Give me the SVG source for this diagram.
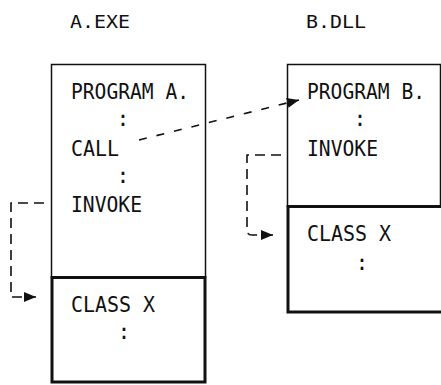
<svg xmlns="http://www.w3.org/2000/svg" width="441" height="385" viewBox="0 0 441 385">
<style>
text{font-family:"DejaVu Sans Mono","Liberation Mono",monospace;font-size:21.5px;fill:#111}
.h{font-size:18px}
.c{text-anchor:middle}
.thin{fill:none;stroke:#111;stroke-width:1.5}
.thick{fill:none;stroke:#111;stroke-width:3}
.dash{fill:none;stroke:#111;stroke-width:1.6;stroke-dasharray:10 6}
.dash2{fill:none;stroke:#111;stroke-width:1.6;stroke-dasharray:8 10}
</style>
<defs>
<marker id="ah" markerUnits="userSpaceOnUse" markerWidth="14" markerHeight="12" refX="12" refY="5" orient="auto">
<path d="M0,0 L12,5 L0,10 Z" fill="#111"/>
</marker>
</defs>
<rect width="441" height="385" fill="#fff"/>
<g id="label-a"><text class="h" x="70" y="28" textLength="60" lengthAdjust="spacingAndGlyphs">A.EXE</text></g>
<g id="label-b"><text class="h" x="306" y="28" textLength="60" lengthAdjust="spacingAndGlyphs">B.DLL</text></g>
<g id="program-a">
<rect class="thin" x="51.5" y="64.5" width="154" height="213"/>
<text x="71" y="99" textLength="118" lengthAdjust="spacingAndGlyphs">PROGRAM A.</text>
<text class="c" x="123" y="126">:</text>
<text x="71" y="156" textLength="48" lengthAdjust="spacingAndGlyphs">CALL</text>
<text class="c" x="123" y="183">:</text>
<text x="71" y="212" textLength="71" lengthAdjust="spacingAndGlyphs">INVOKE</text>
</g>
<g id="class-x-a">
<rect class="thick" x="52" y="277.5" width="153" height="104.5"/>
<text x="71" y="312" textLength="84" lengthAdjust="spacingAndGlyphs">CLASS X</text>
<text class="c" x="124" y="339">:</text>
</g>
<g id="program-b">
<rect class="thin" x="287.5" y="64.5" width="153" height="142"/>
<text x="307" y="99" textLength="118" lengthAdjust="spacingAndGlyphs">PROGRAM B.</text>
<text class="c" x="360" y="126">:</text>
<text x="307" y="156" textLength="71" lengthAdjust="spacingAndGlyphs">INVOKE</text>
</g>
<g id="class-x-b">
<rect class="thick" x="288" y="206.5" width="155" height="105.5"/>
<text x="307" y="241" textLength="84" lengthAdjust="spacingAndGlyphs">CLASS X</text>
<text class="c" x="362" y="270">:</text>
</g>
<g id="connectors">
<path class="dash2" d="M139,140 L299,100" marker-end="url(#ah)"/>
<path class="dash" d="M44,203 H11 V297 H36" marker-end="url(#ah)"/>
<path class="dash" d="M281,155 H247 V230 Q247,235 252,235 H273" marker-end="url(#ah)"/>
</g>
</svg>
